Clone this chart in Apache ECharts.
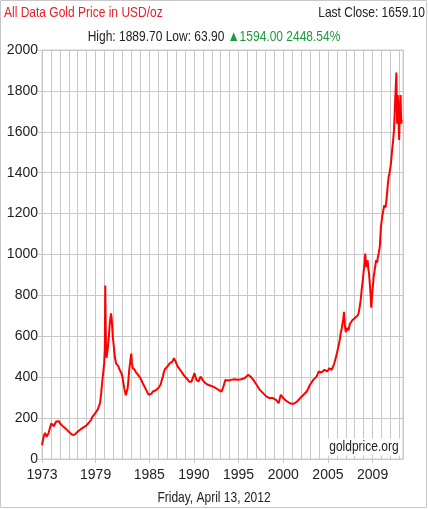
<!DOCTYPE html>
<html>
<head>
<meta charset="utf-8">
<style>
  html, body { margin: 0; padding: 0; background: #fff; }
  #chart { width: 428px; height: 509px; }
</style>
</head>
<body>
<div id="chart"></div>
<script src="https://cdn.jsdelivr.net/npm/echarts@6/dist/echarts.min.js"></script>
<script>
// x positions are in chart grid units (one vertical grid line per unit)
var pos = [
  0.00, 0.12, 0.23, 0.35, 0.42, 0.52, 0.62, 0.75, 0.88, 1.04, 1.13, 1.23, 1.35, 1.45, 1.58, 1.69, 1.80, 1.92,
  2.05, 2.15, 2.30, 2.46, 2.60, 2.75, 2.85, 3.00, 3.12, 3.23, 3.38, 3.54, 3.65, 3.77, 3.90, 4.08, 4.22, 4.38,
  4.55, 4.77, 4.92, 5.08, 5.22, 5.38, 5.50, 5.62, 5.78, 5.92, 6.08, 6.23, 6.38, 6.50, 6.62, 6.70, 6.77, 6.88,
  6.96, 7.03, 7.08, 7.12, 7.16, 7.23, 7.30, 7.38, 7.48, 7.58, 7.66, 7.73, 7.79, 7.85, 7.92, 8.00, 8.08, 8.15,
  8.23, 8.31, 8.42, 8.54, 8.65, 8.77, 8.88, 9.00, 9.10, 9.19, 9.28, 9.38, 9.47, 9.58, 9.66, 9.77, 9.86, 9.94,
  10.00, 10.06, 10.15, 10.26, 10.38, 10.50, 10.64, 10.78, 10.90, 11.02, 11.13, 11.26, 11.39, 11.52, 11.65, 11.80,
  11.95, 12.05, 12.14, 12.27, 12.40, 12.55, 12.70, 12.85, 13.00, 13.13, 13.27, 13.40, 13.53, 13.64, 13.76, 13.90,
  14.02, 14.15, 14.29, 14.45, 14.59, 14.68, 14.77, 14.86, 14.96, 15.08, 15.19, 15.30, 15.41, 15.56, 15.71, 15.86,
  16.02, 16.17, 16.32, 16.47, 16.62, 16.73, 16.84, 16.95, 17.07, 17.18, 17.29, 17.40, 17.52, 17.63, 17.74, 17.86,
  17.97, 18.12, 18.27, 18.42, 18.57, 18.72, 18.87, 19.02, 19.17, 19.32, 19.47, 19.62, 19.77, 19.92, 20.08, 20.19,
  20.30, 20.42, 20.53, 20.68, 20.83, 21.00, 21.17, 21.35, 21.54, 21.73, 21.92, 22.10, 22.29, 22.48, 22.67, 22.86,
  23.05, 23.20, 23.36, 23.50, 23.65, 23.83, 24.01, 24.20, 24.38, 24.56, 24.74, 24.92, 25.10, 25.28, 25.46, 25.65,
  25.83, 26.00, 26.19, 26.34, 26.48, 26.60, 26.73, 26.86, 26.99, 27.14, 27.28, 27.46, 27.64, 27.80, 27.93, 28.05,
  28.18, 28.36, 28.54, 28.72, 28.90, 29.08, 29.27, 29.45, 29.63, 29.81, 29.99, 30.18, 30.36, 30.54, 30.72, 30.85,
  30.97, 31.10, 31.26, 31.44, 31.62, 31.76, 31.91, 32.05, 32.17, 32.30, 32.42, 32.56, 32.71, 32.85, 33.00, 33.12,
  33.25, 33.35, 33.43, 33.55, 33.70, 33.80, 33.90, 34.00, 34.15, 34.30, 34.45, 34.60, 34.75, 34.88, 35.02, 35.15,
  35.30, 35.42, 35.54, 35.66, 35.78, 35.90, 36.00, 36.10, 36.17, 36.25, 36.33, 36.44, 36.52, 36.60, 36.71, 36.78,
  36.85, 36.92, 37.00, 37.12, 37.25, 37.39, 37.50, 37.59, 37.70, 37.80, 37.93, 38.00, 38.07, 38.20, 38.30, 38.37,
  38.45, 38.54, 38.62, 38.71, 38.80, 38.88, 38.97, 39.05, 39.14, 39.22, 39.30, 39.39, 39.46, 39.53, 39.60, 39.66,
  39.74, 39.82, 39.90, 39.97, 40.05, 40.13, 40.20, 40.26
];
var price = [
  68, 95, 117, 128, 122, 108, 112, 128, 150, 174, 165, 168, 160, 172, 183, 190, 180, 184,
  172, 168, 162, 156, 150, 143, 140, 134, 128, 125, 118, 112, 118, 124, 130, 137, 142, 148,
  152, 158, 162, 170, 176, 182, 192, 205, 212, 222, 232, 242, 258, 275, 320, 360, 390, 435,
  470, 540, 848, 680, 560, 495, 520, 550, 600, 660, 690, 712, 690, 650, 600, 566, 530, 500,
  480, 465, 470, 455, 440, 432, 420, 402, 375, 350, 330, 312, 318, 345, 380, 440, 470, 500,
  515, 470, 445, 440, 436, 425, 420, 410, 403, 395, 387, 372, 363, 350, 338, 325,
  314, 308, 306, 320, 330, 328, 335, 340, 346, 352, 363, 385, 403, 425, 439, 446,
  452, 460, 468, 472, 476, 485, 493, 484, 476, 462, 452, 445, 439, 430, 420, 410,
  403, 395, 387, 378, 371, 378, 387, 405, 420, 400, 387, 382, 379, 392, 403, 395,
  387, 378, 371, 366, 363, 360, 358, 356, 354, 350, 346, 342, 338, 334, 330, 340,
  354, 372, 387, 385, 384, 386, 387, 389, 390, 388, 387, 389, 390, 392, 395, 398,
  411, 405, 403, 395, 387, 375, 363, 350, 338, 330, 322, 314, 306, 302, 298, 300,
  298, 294, 289, 282, 273, 295, 314, 305, 298, 292, 286, 280, 276, 272, 270, 268,
  270, 275, 281, 290, 298, 306, 314, 322, 330, 346, 363, 375, 387, 395, 403, 415,
  428, 425, 423, 430, 436, 432, 428, 436, 444, 440, 436, 450, 468, 490, 517, 540,
  566, 590, 615, 640, 680, 720, 650, 620, 640, 630, 660, 670, 680, 687, 690, 695,
  700, 711, 740, 776, 830, 874, 920, 956, 1005, 960, 939, 972, 930, 907, 842, 800,
  740, 790, 830, 890, 930, 972, 960, 988, 1010, 1037, 1135, 1160, 1184, 1216, 1240, 1249,
  1230, 1265, 1300, 1347, 1380, 1396, 1420, 1445, 1490, 1526, 1560, 1608, 1680, 1760, 1830, 1890,
  1640, 1780, 1660, 1560, 1720, 1780, 1640, 1659
];
var tickPos = [0, 6, 12, 17, 22, 27, 32, 37];
var tickLabels = ['1973', '1979', '1985', '1990', '1995', '2000', '2005', '2009'];

var font = '"Liberation Sans", Arial, sans-serif';
var gridColor = '#c8c8c8';
var squeeze = 0.8; // reference text is narrow

var lineData = [];
for (var i = 0; i < pos.length; i++) {
  lineData.push([pos[i], price[i]]);
}

function label(text, x, y, align, color, extra, bg) {
  var style = {
    text: text,
    x: 0, y: 0,
    align: align,
    verticalAlign: 'middle',
    fill: color,
    font: '15px ' + font
  };
  if (extra) style.rich = extra;
  if (bg) {
    style.backgroundColor = '#fff';
    style.padding = [1, 3, 1, 3];
  }
  return {
    type: 'text',
    x: x, y: y,
    z: 10,
    scaleX: squeeze,
    style: style,
    silent: true
  };
}

var chart = echarts.init(document.getElementById('chart'));
chart.setOption({
  backgroundColor: '#fff',
  animation: false,
  graphic: [{
    type: 'rect',
    shape: { x: 0.5, y: 0.5, width: 426, height: 507 },
    style: { fill: null, stroke: '#c8c8c8', lineWidth: 1 },
    silent: true
  },
    label('All Data Gold Price in USD/oz', 4, 13, 'left', '#e8202a'),
    label('Last Close: 1659.10', 425, 13, 'right', '#222'),
    label('High: 1889.70 Low: 63.90 {g|▲1594.00 2448.54%}', 214, 37, 'center', '#222',
      { g: { fill: '#1e9a3c', font: '15px ' + font } }),
    label('goldprice.org', 401, 447, 'right', '#222', null, true),
    label('Friday, April 13, 2012', 214, 498, 'center', '#222')
  ],
  grid: {
    left: 42,
    right: 25,
    top: 50,
    bottom: 50,
    show: true,
    borderColor: gridColor,
    borderWidth: 1
  },
  xAxis: [{
    type: 'value',
    min: 0,
    max: 40.4,
    interval: 1,
    axisLine: { show: true, lineStyle: { color: gridColor } },
    axisTick: { show: true, length: 4, customValues: tickPos, lineStyle: { color: gridColor } },
    axisLabel: {
      customValues: tickPos,
      margin: 9,
      color: '#222',
      fontFamily: font,
      fontSize: 14,
      formatter: function (v) {
        var k = tickPos.indexOf(Math.round(v));
        return k >= 0 ? tickLabels[k] : '';
      }
    },
    splitLine: { show: false }
  }, {
    // only used for the vertical grid lines
    type: 'value',
    position: 'top',
    min: 0,
    max: 40.4,
    interval: 1,
    axisLine: { show: false },
    axisTick: { show: false },
    axisLabel: { show: false },
    splitLine: { show: true, lineStyle: { color: gridColor, width: 1 } }
  }],
  yAxis: {
    type: 'value',
    min: 0,
    max: 2000,
    interval: 200,
    axisLine: { show: true, lineStyle: { color: gridColor } },
    axisTick: { show: true, length: 4, lineStyle: { color: gridColor } },
    axisLabel: {
      margin: 4, color: '#222', fontFamily: font, fontSize: 14,
      formatter: function (v) { return String(v); }
    },
    splitLine: { show: true, lineStyle: { color: gridColor, width: 1 } }
  },
  series: [{
    type: 'line',
    xAxisIndex: 0,
    data: lineData,
    symbol: 'none',
    lineStyle: { color: '#ff0000', width: 2 },
    z: 5
  }]
});
</script>
</body>
</html>
